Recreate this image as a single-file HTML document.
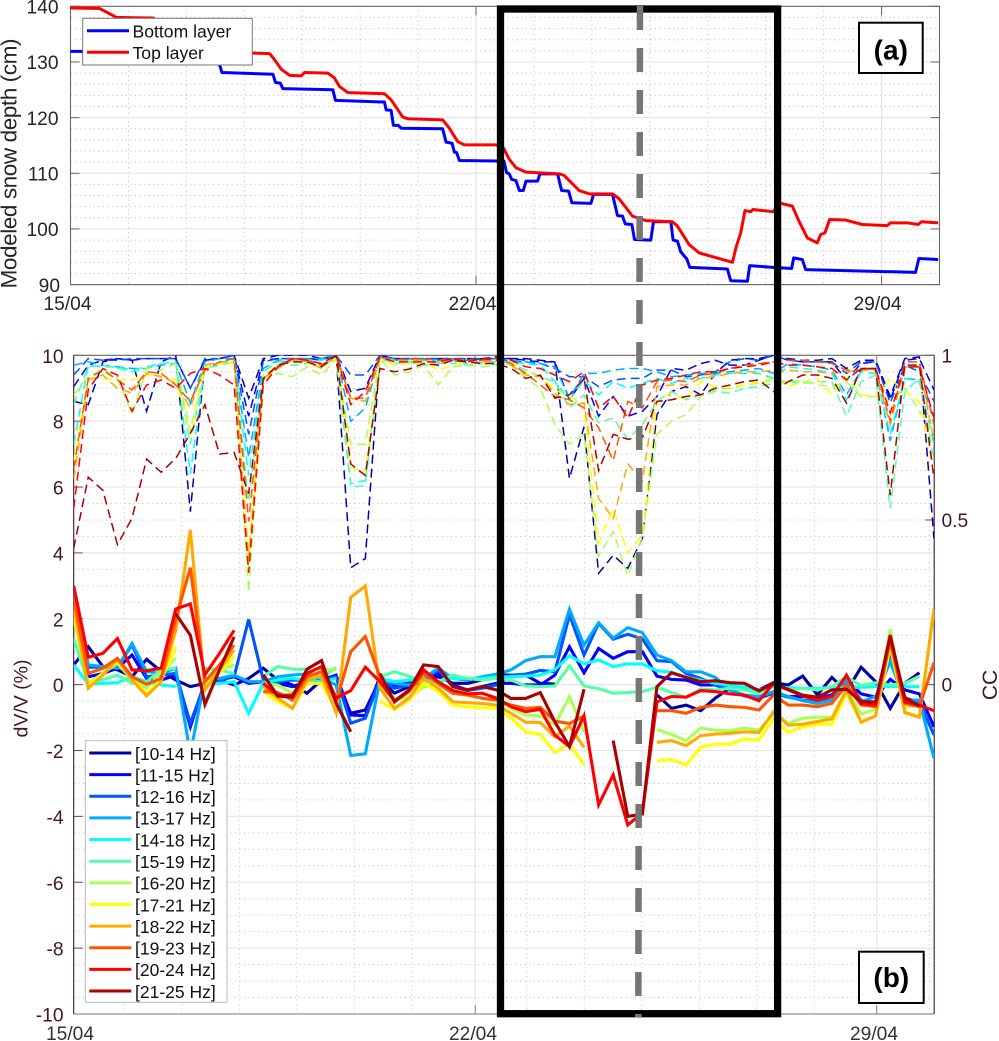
<!DOCTYPE html>
<html lang="en">
<head>
<meta charset="utf-8">
<title>Modeled snow depth and dV/V</title>
<style>
html,body{margin:0;padding:0;background:#fff;}
svg{display:block;font-family:"Liberation Sans",sans-serif;}
</style>
</head>
<body>
<svg id="fig" xmlns="http://www.w3.org/2000/svg" width="999" height="1041" viewBox="0 0 999 1041">
<defs>
<clipPath id="clip-a"><rect x="70.5" y="6.3" width="869" height="278.3"/></clipPath>
<clipPath id="clip-b"><rect x="73.7" y="355.3" width="860.5" height="658.7"/></clipPath>
</defs>
<g id="panel-a"></g>
<g id="panel-b"></g>
<text x="0" y="0" transform="translate(16.5,163.5) rotate(-90)" text-anchor="middle" font-size="22.6" fill="#262626" textLength="250" lengthAdjust="spacing">Modeled snow depth (cm)</text>
<text x="0" y="0" transform="translate(27.5,698.5) rotate(-90)" text-anchor="middle" font-size="19.6" fill="#43162c" textLength="78" lengthAdjust="spacing">dV/V (%)</text>
<text x="0" y="0" transform="translate(997,685) rotate(-90)" text-anchor="middle" font-size="21" fill="#43162c">CC</text>
<g id="legend-a">
<rect x="82.7" y="18.3" width="169.6" height="46.7" fill="#fff" stroke="#777" stroke-width="1"/>
<line x1="87" x2="129" y1="30.7" y2="30.7" stroke="#0000ff" stroke-width="3"/>
<text x="132.5" y="37.7" font-size="17.6" fill="#111">Bottom layer</text>
<line x1="87" x2="129" y1="52.3" y2="52.3" stroke="#ff0000" stroke-width="3"/>
<text x="132.5" y="59" font-size="17.6" fill="#111">Top layer</text>
</g>
<g id="legend-b">
<rect x="85.3" y="740.7" width="141.7" height="261.6" fill="#fff" stroke="#bbb" stroke-width="1"/>
</g>
<rect x="500.5" y="9" width="277.1" height="1004.7" fill="none" stroke="#000" stroke-width="7.3"/>
<line x1="640" y1="6" x2="638.3" y2="1017" stroke="#767676" stroke-width="6.5" stroke-dasharray="24 18"/>
<g>
<rect x="859" y="22.7" width="63.7" height="50.3" fill="#fff" stroke="#000" stroke-width="2"/>
<text x="890.8" y="59.5" text-anchor="middle" font-size="28" font-weight="bold" fill="#000">(a)</text>
</g>
<g>
<rect x="859" y="951.7" width="64.7" height="51.3" fill="#fff" stroke="#000" stroke-width="2"/>
<text x="891.3" y="987" text-anchor="middle" font-size="28" font-weight="bold" fill="#000">(b)</text>
</g>
</svg>
<script>
// ---------- Panel (a) data ----------
const topDays = [0,0.505,0.649,0.793,1.425,1.597,1.712,2.229,2.345,2.517,2.804,3.132,3.437,3.522,3.638,3.781,3.983,4.04,4.442,4.557,4.643,4.787,5.419,5.534,5.735,5.821,6.424,6.539,6.683,6.798,7.345,7.47,7.574,7.689,7.862,8.436,8.523,8.781,8.954,9.356,9.471,9.701,9.931,10.391,10.477,10.678,10.85,11.425,11.494,11.569,11.643,11.741,11.781,12.126,12.258,12.46,12.574,12.718,12.891,12.948,13.023,13.103,13.379,13.666,14.097,14.155,14.442,14.632,14.69,14.977];
const topLayer = [139.7,139.6,138.8,138.0,137.9,136.7,135.5,135.4,134.6,132.8,131.7,131.6,131.5,130.4,128.7,127.6,127.5,128.1,128.0,127.1,125.6,124.5,124.3,123.2,120.1,119.8,119.6,118.1,115.7,115.1,115.1,114.6,112.5,111.0,110.2,109.9,109.6,106.9,106.3,106.3,105.4,102.3,101.5,101.3,100.5,97.2,95.7,94.0,96.9,99.3,103.3,103.1,103.5,103.1,104.6,104.1,101.4,98.4,97.5,99.0,99.3,101.7,101.6,100.8,100.6,101.1,101.1,100.8,101.3,101.1];
const bottomDays = [0,2.0,2.57,2.614,3.494,3.54,3.621,3.666,4.528,4.574,5.419,5.448,5.534,5.574,5.66,5.707,6.424,6.483,6.586,6.626,6.666,6.712,7.345,7.482,7.528,7.574,7.615,7.689,7.747,7.816,7.862,8.063,8.103,8.408,8.477,8.598,8.655,8.983,9.028,9.356,9.442,9.529,9.575,9.69,9.735,10.017,10.063,10.362,10.402,10.477,10.534,10.638,10.69,11.339,11.396,11.684,11.724,12.126,12.448,12.483,12.632,12.69,14.586,14.644,14.977];
const bottomLayer = [131.9,131.8,129.6,128.1,127.8,126.3,126.2,125.2,125.0,123.1,122.8,121.4,121.3,118.6,118.6,118.1,118.0,115.6,115.4,113.8,113.7,112.3,112.2,112.2,110.1,109.9,108.9,108.7,106.9,106.9,108.6,108.6,109.9,109.9,106.9,106.8,104.7,104.6,106.2,106.2,102.4,102.3,100.9,100.8,98.1,98.0,101.3,101.3,98.0,97.8,95.9,94.6,93.1,92.8,90.7,90.6,93.4,93.1,92.9,94.8,94.5,92.7,92.2,94.7,94.5];
const depthTicks = [90,100,110,120,130,140];
const dateTickDays = [0,7,14];
const dateTickLabels = ["15/04","22/04","29/04"];

// ---------- Panel (b) data: dV/V (%) per 6-hourly sample ----------
const dvv10 = [.60,1.15,.55,.45,.24,.77,.40,.14,-.06,.04, .14,-.01,.19,.50,.14,-.01,-.26,.14,.24,-.87, -.77,.14,-.26,-.06,.14,.24,.04,.04,.14,.29, .29,.29,.04,.02,null,null,null,null,null,null, -.31,-.72,-.62,-.79,-.41,-.11,-.11,-.16,.06,-.01, .26,-.31,.22,-.21,.53,.09,-.72,.04,.36,null];
const dvv11 = [2.0,.24,.34,.50,.90,.19,.14,.29,-1.28,.09, .14,.24,.04,.09,.04,-.06,.09,.14,.29,-.92, -.94,.24,-.01,.04,.19,.34,-.01,-.16,-.06,.04, .04,-.01,-.01,.29,1.15,.36,1.10,.80,1.0,1.0, .26,.16,.14,-.01,-.01,-.16,-.34,-.41,-.26,-.36, -.36,-.41,-.31,.14,-.28,-.38,.16,-.16,-.28,-1.28];
const dvv12 = [2.6,.53,.53,.55,1.2,.24,.29,.34,-1.17,.04, .14,.24,1.98,.14,.09,.14,.14,.14,.24,-1.17, -1.02,.14,-.11,-.01,.14,.45,-.06,-.18,-.11,-.01, .29,.32,.43,.39,2.12,.90,1.86,1.38,1.53,1.39, .73,.70,.34,.19,-.01,-.16,-.34,-.41,-.26,-.38, -.47,-.52,-.47,.09,-.47,-.57,.85,-.41,-.52,-1.53];
const dvv13 = [2.8,.60,.55,.50,1.25,.40,.34,.50,-2.1,.19, .19,.29,.09,.09,.24,.29,.32,.19,-.01,-2.15, -2.1,.14,.04,-.01,.19,.50,.19,.14,.24,.32, .45,.73,.85,.85,2.29,1.2,1.88,1.41,1.73,1.58, .90,.73,.39,.39,.22,-.16,-.31,-.36,-.21,-.36, -.49,-.57,-.47,.16,-.52,-.36,.70,-.47,-.47,-2.23];
const dvv14 = [.60,.02,.04,.06,.24,.09,-.01,-.06,null,-.01, .04,.09,-.87,.04,.14,.19,.14,.09,.19,null, null,.19,.09,.14,.14,.09,.19,.19,.19,.24, .24,.26,.29,.45,.88,.63,.75,.55,.63,.63, .42,.38,.22,.14,.04,-.01,-.08,-.16,-.06,-.09, -.11,-.11,-.09,-.09,-.08,-.06,-.06,-.06,-.06,null];
const dvv15 = [1.4,.05,.15,.29,.04,.09,.45,.50,null,.50, .45,.34,null,.24,.55,.47,.47,.19,.52,null, null,.24,.39,.26,.09,.09,.29,.19,.14,.19, .14,-.04,-.06,-.04,.57,-.04,-.12,-.26,-.24,-.21, -.08,-.24,-.38,-.13,-.16,-.11,-.16,-.26,-.01,-.16, -.11,-.16,-.06,.24,-.03,.06,-.01,.04,.26,null];
const dvv16 = [2.0,.04,.34,.65,.14,-.11,.39,.80,null,-.01, .45,.60,null,.04,-.01,-.26,.14,.45,.45,null, null,-.06,-.41,-.41,-.06,-.01,-.26,-.34,-.41,-.47, -.72,-.92,-.95,-1.22,-.36,-1.43,null,null,null,null, -1.36,-1.51,-1.71,-1.32,-1.38,-1.40,-1.32,-1.38,-.87,-1.17, -1.02,-.99,-.99,-.16,-.89,-.75,1.68,-.69,-.62,null];
const dvv17 = [2.2,-.06,.34,.70,.19,-.28,.14,1.15,null,-.01, .34,.85,null,-.20,-.52,-.72,.04,.04,-.77,null, null,-.50,-.75,-.47,.04,-.21,-.62,-.67,-.70,-.72, -1.02,-1.43,-1.51,-2.06,-1.80,-2.44,null,null,null,null, -2.32,-2.27,-2.44,-1.90,-1.81,-1.81,-1.65,-1.68,-1.03,-1.45, -1.28,-1.20,-1.20,-.26,-1.12,-.95,1.15,-.82,-.97,2.27];
const dvv18 = [2.4,-.11,.29,.77,.14,-.34,.09,1.65,4.7,-.16, .45,1.05,null,-.06,-.41,-.72,.14,.26,-.85,2.65, 3.0,-.11,-.72,-.41,.19,-.11,-.52,-.55,-.57,-.62, -.87,-1.14,-1.15,-1.58,-1.26,-1.90,null,null,null,null, -1.75,-1.70,-1.85,-1.55,-1.50,-1.48,-1.43,-1.45,-.82,-1.23, -1.20,-1.12,-1.04,-.16,-1.14,-.95,1.36,-.85,-.99,2.30];
const dvv19 = [2.6,.34,.50,.80,.24,.01,.19,2.0,3.55,.09, .60,1.2,null,-.21,-.24,-.47,.24,.39,-.52,1.0, 1.46,.24,-.52,-.21,.34,.04,-.26,-.31,-.41,-.47, -.62,-.72,-.69,-1.11,-1.18,-.95,null,null,null,null, -.79,-.79,-.87,-.69,-.62,-.67,-.69,-.77,-.32,-.62, -.62,-.67,-.57,-.01,-.62,-.67,1.31,-.57,-.67,.67];
const dvv20 = [3.0,.83,.95,1.4,.45,.42,.50,2.3,2.45,.30, .95,1.65,null,.04,-.32,-.32,.34,.55,-.41,-.18, .53,.09,-.50,-.16,.45,.09,-.18,-.28,-.26,-.41, -.67,-.82,-.75,-1.53,-1.88,-.95,-3.65,-2.74,-4.26,-3.90, -.52,-.36,-.38,-.18,-.21,-.28,-.32,-.49,.04,-.16, -.34,-.47,-.36,.29,-.57,-.62,1.51,-.52,-.62,-.79];
const dvv21 = [null,null,null,null,null,null,null,2.15,1.5,-.60, .45,1.45,null,.30,-.35,-.38,.47,.73,-.57,-1.43, null,.34,-.52,-.16,.60,.55,-.06,-.16,-.06,-.16, -.42,-.42,-.24,-1.13,-1.88,-.14,null,-1.70,-4.0,-3.93, -.06,.36,.22,.09,.12,.06,.04,-.19,.04,-.14, -.32,-.38,-.16,-.14,-.52,-.52,1.46,-.39,-.65,null];

// ---------- Panel (b) data: CC per 6-hourly sample ----------
const cc10 = [.86,.85,.98,.99,.985,.83,.98,1,.525,.985, .99,1,.87,.99,1,1,1,.99,1,.355, .383,1,.99,.99,.99,.99,.99,.99,.99,.995, .99,.99,.985,.98,.626,.783,.338,.393,.353,.444, .82,.89,.905,.88,.945,.985,.99,.99,1,.99, .985,.985,.99,.96,.985,.985,.875,.99,.995,.444];
const cc11 = [.905,.97,.985,.99,.985,.99,.99,.99,.90,.985, .99,1,.815,.985,.99,.99,.99,.985,1,.89, .90,1,.99,.99,.985,.99,.985,.985,.99,.99, .99,.985,.98,.98,.865,.93,.815,.875,.815,.83, .875,.96,.955,.975,.985,.97,.97,.985,1,.985, .98,.98,.98,.925,.975,.98,.865,.985,.99,.895];
const cc12 = [.94,.99,.985,.985,.99,.99,.99,.99,.90,.99, .99,1,.76,.98,.99,.99,.99,.99,1,.94, .94,1,.99,.99,.99,.99,.99,.99,.99,.99, .98,.98,.975,.96,.935,.935,.905,.925,.93,.93, .955,.955,.935,.94,.95,.98,.99,.985,1,.985, .98,.98,.98,.945,.98,.98,.855,.97,.95,.86];
const cc13 = [.97,.98,.97,.965,.96,.96,.97,.975,.855,.98, .99,.99,.69,.96,.985,.99,.99,.99,1,.80, .84,.995,.99,.985,.99,.985,.98,.985,.98,.985, .985,.98,.975,.965,.87,.945,.945,.955,.96,.96, .95,.935,.94,.945,.945,.95,.955,.96,.945,.975, .97,.965,.955,.88,.955,.96,.74,.93,.925,.81];
const cc14 = [.73,.97,.965,.965,.955,.965,.975,.98,.64,.97, .98,.985,.635,.95,.98,.985,.985,.985,.995,.61, .62,.99,.985,.98,.985,.98,.985,.975,.98,.98, .98,.975,.97,.92,.865,.925,.88,.92,.90,.915, .93,.915,.93,.93,.94,.945,.945,.945,.93,.965, .96,.955,.945,.865,.95,.945,.76,.93,.92,.73];
const cc15 = [.85,.965,.97,.96,.95,.96,.975,.975,.73,.96, .97,.98,.555,.93,.97,.97,.975,.965,.99,.60, .605,.99,.975,.98,.97,.975,.975,.97,.975,.97, .975,.955,.935,.92,.84,.88,.795,.81,.745,.79, .86,.89,.865,.88,.89,.885,.90,.905,.915,.92, .915,.92,.92,.815,.92,.94,.535,.89,.93,.68];
const cc16 = [.88,.935,.96,.93,.82,.96,.955,.975,.77,.965, .975,.98,.28,.93,.945,.935,.965,.94,.99,.73, .73,.99,.94,.95,.97,.91,.965,.97,.965,.97, .97,.93,.90,.79,.73,.76,.39,.465,.33,.45, .76,.80,.82,.875,.895,.90,.91,.915,.925,.92, .925,.91,.905,.92,.875,.875,.86,.90,.83,.77];
const cc17 = [.68,.93,.93,.925,.925,.94,.94,.925,.76,.965, .975,.975,.36,.94,.97,.98,.975,.965,.99,.66, .645,.99,.97,.975,.98,.955,.97,.98,.975,.975, .98,.945,.935,.895,.875,.85,.43,.535,.40,.455, .86,.885,.865,.92,.905,.905,.91,.92,.93,.905, .92,.93,.88,.935,.88,.875,.93,.89,.86,.655];
const cc18 = [.625,.925,.94,.90,.885,.945,.935,.915,.84,.97, .98,.98,.385,.93,.96,.985,.98,.96,1,.87, .86,.99,.98,.985,.985,.975,.985,.985,.98,.985, .97,.94,.935,.885,.85,.855,.565,.505,.67,.62, .905,.91,.91,.93,.935,.945,.95,.95,.955,.955, .95,.95,.945,.95,.955,.955,.79,.965,.965,.74];
const cc19 = [.655,.93,.955,.925,.895,.95,.945,.91,.86,.955, .98,.99,.495,.925,.97,.99,.985,.97,1,.87, .87,.995,.985,.99,.99,.985,.99,.985,.985,.99, .975,.945,.91,.875,.865,.84,.78,.68,.86,.84, .92,.925,.92,.94,.945,.96,.97,.975,.98,.985, .985,.98,.975,.955,.955,.96,.80,.98,.98,.79];
const cc20 = [.535,.895,.96,.94,.83,.91,.925,.90,.945,.96, .94,.91,.34,.91,.965,.99,.985,.975,1,.85, .89,.995,.98,.98,.98,.98,.99,.98,.99,.985, .985,.965,.96,.94,.92,.95,.84,.875,.81,.91, .925,.93,.94,.95,.95,.96,.965,.97,.98,.97, .97,.965,.96,.925,.96,.96,.825,.965,.965,.81];
const cc21 = [.414,.63,.59,.425,.505,.685,.645,.687,.763,.85, .70,.705,.58,.93,.97,.98,.98,.965,1,.67, .635,.96,.95,.958,.975,.97,.985,.98,.975,.975, .96,.93,.94,.87,.88,.93,.65,.76,.745,.75, .86,.865,.875,.88,.90,.91,.92,.925,.89,.92, .94,.94,.93,.855,.96,.96,.575,.97,.97,.625];

const bandLabels = ["[10-14 Hz]","[11-15 Hz]","[12-16 Hz]","[13-17 Hz]","[14-18 Hz]","[15-19 Hz]","[16-20 Hz]","[17-21 Hz]","[18-22 Hz]","[19-23 Hz]","[20-24 Hz]","[21-25 Hz]"];
const dvvSeries = [dvv10,dvv11,dvv12,dvv13,dvv14,dvv15,dvv16,dvv17,dvv18,dvv19,dvv20,dvv21];
const ccSeries = [cc10,cc11,cc12,cc13,cc14,cc15,cc16,cc17,cc18,cc19,cc20,cc21];
const dvvTicks = [-10,-8,-6,-4,-2,0,2,4,6,8,10];
const ccTicks = [0,0.5,1];
const bandColors = ["#0000aa","#0000ff","#0055ff","#00aaff","#00ffff","#55ffaa","#aaff55","#ffff00","#ffaa00","#ff5500","#ff0000","#aa0000"];

const NS = "http://www.w3.org/2000/svg";
const maroon = "#43162c";
function mk(parent, tag, attrs, txt){
  const e = document.createElementNS(NS, tag);
  for (const k in attrs) e.setAttribute(k, attrs[k]);
  if (txt !== undefined) e.textContent = txt;
  parent.appendChild(e);
  return e;
}
function pathFrom(xs, ys){
  let d = "", pen = false;
  for (let i = 0; i < ys.length; i++){
    if (ys[i] === null){ pen = false; continue; }
    d += (pen ? "L" : "M") + xs[i].toFixed(2) + " " + ys[i].toFixed(2);
    pen = true;
  }
  return d;
}

// ---------- Panel (a) ----------
const A = {l:70.5, r:939.5, t:6.3, b:284.6};
const xA = d => A.l + (A.r - A.l) * d / 15;
const yA = v => A.b - (A.b - A.t) * (v - 90) / 50;
const pa = document.getElementById("panel-a");
const tickXA = [67.5,472.5,877.5];

for (let v = 92; v < 140; v += 2){
  if (v % 10 === 0) continue;
  const l = mk(pa, "line", {x1:A.l, x2:A.r, y1:yA(v), y2:yA(v), stroke:"#c4c4c4", "stroke-width":1, "stroke-dasharray":"1.2 3.4"});
  
  
}
for (let d = 1; d < 15; d++){
  if (d === 7 || d === 14) continue;
  const l = mk(pa, "line", {x1:xA(d), x2:xA(d), y1:A.t, y2:A.b, stroke:"#c4c4c4", "stroke-width":1, "stroke-dasharray":"1.2 3.4"});
  
  
}
depthTicks.forEach(v => {
  const g = mk(pa, "line", {x1:A.l, x2:A.r, y1:yA(v), y2:yA(v), stroke:"#e6e6e6", "stroke-width":1.2});
  
  
  const t1 = mk(pa, "line", {x1:A.l, x2:A.l + 9, y1:yA(v), y2:yA(v), stroke:"#666", "stroke-width":1});
  
  
  const t2 = mk(pa, "line", {x1:A.r - 9, x2:A.r, y1:yA(v), y2:yA(v), stroke:"#666", "stroke-width":1});
  
  
  const lb = mk(pa, "text", {x:v === 90 ? 60 : 58.5, y:yA(v) + 7.2, "text-anchor":"end", "font-size":19.2, fill:"#262626"}, String(v));
  
  
});
dateTickDays.forEach((d, i) => {
  if (d > 0){
    const g = mk(pa, "line", {x1:xA(d), x2:xA(d), y1:A.t, y2:A.b, stroke:"#e2e2e2", "stroke-width":1.2});
    
    
    const t1 = mk(pa, "line", {x1:xA(d), x2:xA(d), y1:A.b - 9, y2:A.b, stroke:"#666", "stroke-width":1});
    
    
    const t2 = mk(pa, "line", {x1:xA(d), x2:xA(d), y1:A.t, y2:A.t + 9, stroke:"#666", "stroke-width":1});
    
    
  }
  const lb = mk(pa, "text", {x:tickXA[i], y:310, "text-anchor":"middle", "font-size":19.2, fill:"#262626"}, dateTickLabels[i]);
  
  
});
const boxA = mk(pa, "rect", {x:A.l, y:A.t, width:A.r - A.l, height:A.b - A.t, fill:"none", stroke:"#666", "stroke-width":1.1});


const lineBottom = mk(pa, "path", {d:pathFrom(bottomDays.map(xA), bottomLayer.map(yA)), fill:"none", stroke:"#0000ff", "stroke-width":3, "stroke-linejoin":"round", "clip-path":"url(#clip-a)"});


const lineTop = mk(pa, "path", {d:pathFrom(topDays.map(xA), topLayer.map(yA)), fill:"none", stroke:"#ff0000", "stroke-width":3, "stroke-linejoin":"round", "clip-path":"url(#clip-a)"});



// ---------- Panel (b) ----------
const B = {l:73.7, r:934.2, t:355.3, b:1014};
const pxPerDay = 57.36;
const daysPerSample = 0.2542;
const xB = d => B.l + pxPerDay * d;
const yV = v => (B.t + B.b) / 2 - (B.b - B.t) / 20 * v;
const yC = c => yV(0) - (yV(0) - B.t) * c;
const pb = document.getElementById("panel-b");
const tickXB = [70,473,874];

for (let v = -9.5; v < 10; v += 0.5){
  if (Number.isInteger(v / 2)) continue;
  const l = mk(pb, "line", {x1:B.l, x2:B.r, y1:yV(v), y2:yV(v), stroke:"#c8c8c8", "stroke-width":1, "stroke-dasharray":"1.2 3.4"});
  
  
}
for (let k = 0; k < 15; k++){
  if (k === 6 || k === 13) continue;
  const x = 124.3 + 57.5 * k;
  const l = mk(pb, "line", {x1:x, x2:x, y1:B.t, y2:B.b, stroke:"#c8c8c8", "stroke-width":1, "stroke-dasharray":"1.2 3.4"});
  
  
}
dvvTicks.forEach(v => {
  if (Math.abs(v) < 10){
    const g = mk(pb, "line", {x1:B.l, x2:B.r, y1:yV(v), y2:yV(v), stroke:"#e8e4e6", "stroke-width":1.2});
    
    
  }
  const t = mk(pb, "line", {x1:B.l, x2:B.l + 9, y1:yV(v), y2:yV(v), stroke:maroon, "stroke-width":1, opacity:0.75});
  
  
  const lb = mk(pb, "text", {x:63.5, y:yV(v) + 7.5, "text-anchor":"end", "font-size":19.2, fill:maroon}, String(v));
  
  
});
ccTicks.forEach(c => {
  const t = mk(pb, "line", {x1:B.r - 9, x2:B.r, y1:yC(c), y2:yC(c), stroke:maroon, "stroke-width":1, opacity:0.75});
  
  
  const lb = mk(pb, "text", {x:941.5, y:yC(c) + 7, "font-size":19.2, fill:maroon}, String(c));
  
  
});
dateTickDays.forEach((d, i) => {
  if (d > 0){
    const g = mk(pb, "line", {x1:xB(d), x2:xB(d), y1:B.t, y2:B.b, stroke:"#e6e6e6", "stroke-width":1.2});
    
    
    const t = mk(pb, "line", {x1:xB(d), x2:xB(d), y1:B.b - 9, y2:B.b, stroke:"#888", "stroke-width":1});
    
    
    const t2 = mk(pb, "line", {x1:xB(d), x2:xB(d), y1:B.t, y2:B.t + 9, stroke:"#888", "stroke-width":1});
    
    
  }
  const lb = mk(pb, "text", {x:tickXB[i], y:1040, "text-anchor":"middle", "font-size":19.2, fill:"#333"}, dateTickLabels[i]);
  
  
});
const topAxis = mk(pb, "line", {x1:B.l, x2:B.r, y1:B.t, y2:B.t, stroke:"#666", "stroke-width":1.1});


const bottomAxis = mk(pb, "line", {x1:B.l, x2:B.r, y1:B.b, y2:B.b, stroke:"#777", "stroke-width":1.1});


const leftAxis = mk(pb, "line", {x1:B.l, x2:B.l, y1:B.t, y2:B.b, stroke:maroon, "stroke-width":1.1});


const rightAxis = mk(pb, "line", {x1:B.r, x2:B.r, y1:B.t, y2:B.b, stroke:maroon, "stroke-width":1.1});



ccSeries.forEach((vals, s) => {
  const xs = vals.map((_, i) => xB(i * daysPerSample));
  const p = mk(pb, "path", {d:pathFrom(xs, vals.map(c => c === null ? null : yC(c))), fill:"none", stroke:bandColors[s], "stroke-width":1.5, "stroke-dasharray":"9 5", "clip-path":"url(#clip-b)"});
  
  
});
dvvSeries.forEach((vals, s) => {
  const xs = vals.map((_, i) => xB(i * daysPerSample));
  const p = mk(pb, "path", {d:pathFrom(xs, vals.map(v => v === null ? null : yV(v))), fill:"none", stroke:bandColors[s], "stroke-width":3.1, "stroke-linejoin":"miter", "clip-path":"url(#clip-b)"});
  
  
});

// ---------- Band legend ----------
const lg = document.getElementById("legend-b");
bandLabels.forEach((label, s) => {
  const y = 753 + s * 21.64;
  const l = mk(lg, "line", {x1:89.3, x2:131.3, y1:y, y2:y, stroke:bandColors[s], "stroke-width":3});
  
  
  const t = mk(lg, "text", {x:135, y:y + 6.8, "font-size":17.5, fill:"#111"}, label);
  
  
});
</script>
</body>
</html>
